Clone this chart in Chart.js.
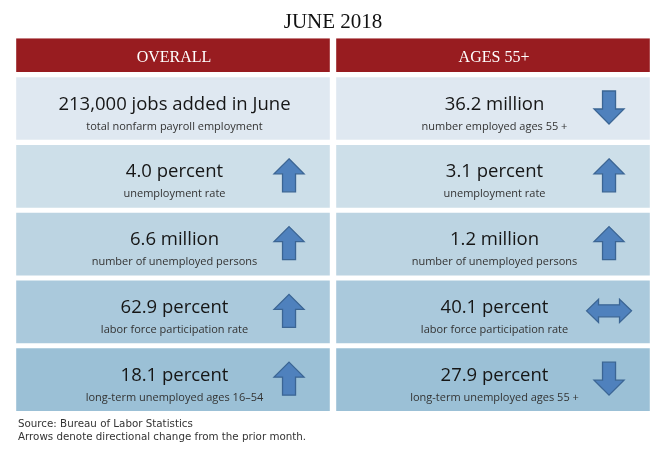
<!DOCTYPE html>
<html>
<head>
<meta charset="utf-8">
<script src="https://cdn.jsdelivr.net/npm/chart.js@4/dist/chart.umd.min.js"></script>
<style>
  html, body { margin: 0; padding: 0; background: #fff; }
  canvas { display: block; }
</style>
</head>
<body>
<canvas id="jobsChart" width="669" height="465"></canvas>
<script>
// columns of the table
const columns = ['OVERALL', 'AGES 55+'];

// headline values and their descriptions, one entry per row
const overallValues = ['213,000 jobs added in June', '4.0 percent', '6.6 million', '62.9 percent', '18.1 percent'];
const overallLabels = ['total nonfarm payroll employment', 'unemployment rate', 'number of unemployed persons',
    'labor force participation rate', 'long-term unemployed ages 16–54'];
const overallTrend = [null, 'up', 'up', 'up', 'up'];

const olderValues = ['36.2 million', '3.1 percent', '1.2 million', '40.1 percent', '27.9 percent'];
const olderLabels = ['number employed ages 55 +', 'unemployment rate', 'number of unemployed persons',
    'labor force participation rate', 'long-term unemployed ages 55 +'];
const olderTrend = ['down', 'up', 'up', 'flat', 'down'];

const footnotes = ['Source: Bureau of Labor Statistics', 'Arrows denote directional change from the prior month.'];

const rowColors = ['#dfe8f1', '#cddfe9', '#bcd4e2', '#aac9dc', '#9bc0d6'];
const headerColor = '#981c20';
const arrowFill = '#4f81bd';
const arrowLine = '#3b6594';

// each row takes one unit on the y scale, the cell covers most of it
const cellSize = 0.925;

const datasets = [{
    label: 'header',
    data: columns.map(() => [-0.575, -0.075]),
    backgroundColor: headerColor
}];
rowColors.forEach(function(color, i) {
    datasets.push({
        label: 'row ' + (i + 1),
        data: columns.map(() => [i, i + cellSize]),
        backgroundColor: color
    });
});

function drawArrow(ctx, dir, cx, cy) {
    ctx.save();
    ctx.beginPath();
    if (dir === 'flat') {
        const pts = [[-22.5, 0], [-10.5, -11.5], [-10.5, -6], [10.5, -6], [10.5, -11.5], [22.5, 0],
            [10.5, 11.5], [10.5, 6], [-10.5, 6], [-10.5, 11.5]];
        pts.forEach((p, k) => k ? ctx.lineTo(cx + p[0], cy + p[1]) : ctx.moveTo(cx + p[0], cy + p[1]));
    } else {
        const s = dir === 'up' ? 1 : -1;
        const pts = [[0, -16.5], [15, -1.5], [6.5, -1.5], [6.5, 16.5], [-6.5, 16.5], [-6.5, -1.5], [-15, -1.5]];
        pts.forEach((p, k) => k ? ctx.lineTo(cx + p[0], cy + s * p[1]) : ctx.moveTo(cx + p[0], cy + s * p[1]));
    }
    ctx.closePath();
    ctx.fillStyle = arrowFill;
    ctx.fill();
    ctx.lineWidth = 1.3;
    ctx.strokeStyle = arrowLine;
    ctx.stroke();
    ctx.restore();
}

const cellText = {
    id: 'cellText',
    afterDatasetsDraw(chart) {
        const ctx = chart.ctx;
        ctx.save();
        ctx.textAlign = 'center';
        ctx.textBaseline = 'alphabetic';

        // header labels
        chart.getDatasetMeta(0).data.forEach(function(bar, c) {
            const p = bar.getProps(['x', 'y', 'base'], true);
            const top = Math.min(p.y, p.base);
            ctx.fillStyle = '#ffffff';
            ctx.font = '16px "Liberation Serif"';
            ctx.fillText(chart.data.labels[c], p.x + 1, top + 23.5);
        });

        const values = [overallValues, olderValues];
        const labels = [overallLabels, olderLabels];
        const trends = [overallTrend, olderTrend];
        for (let r = 0; r < rowColors.length; r++) {
            chart.getDatasetMeta(r + 1).data.forEach(function(bar, c) {
                const p = bar.getProps(['x', 'y', 'base', 'width'], true);
                const top = Math.min(p.y, p.base);
                const mid = (p.y + p.base) / 2;
                ctx.fillStyle = '#161616';
                ctx.font = '18.5px "Open Sans"';
                ctx.fillText(values[c][r], p.x + 1.5, top + 32.5);
                ctx.fillStyle = '#333333';
                ctx.font = '11px "Open Sans"';
                ctx.fillText(labels[c][r], p.x + 1.5, top + 52.5);
                if (trends[c][r]) {
                    drawArrow(ctx, trends[c][r], p.x + p.width * 0.37, mid - 1);
                }
            });
        }

        // footnotes under the table
        ctx.textAlign = 'left';
        ctx.fillStyle = '#333333';
        ctx.font = '10.3px "DejaVu Sans"';
        footnotes.forEach(function(line, i) {
            ctx.fillText(line, 18, chart.chartArea.bottom + 15.5 + i * 13.5);
        });
        ctx.restore();
    }
};

new Chart(document.getElementById('jobsChart').getContext('2d'), {
    type: 'bar',
    data: {
        labels: columns,
        datasets: datasets
    },
    options: {
        responsive: false,
        animation: false,
        events: [],
        datasets: {
            bar: {
                grouped: false,
                categoryPercentage: 1,
                barPercentage: 0.98,
                borderWidth: 0
            }
        },
        layout: {
            padding: { left: 13, right: 16, top: 0, bottom: 54 }
        },
        scales: {
            x: { display: false },
            y: { display: false, reverse: true, min: -0.575, max: 4.925 }
        },
        plugins: {
            legend: { display: false },
            tooltip: { enabled: false },
            title: {
                display: true,
                text: 'JUNE 2018',
                color: '#111111',
                font: { family: '"Liberation Serif"', size: 21, weight: 'normal' },
                padding: { top: 10, bottom: 3 }
            }
        }
    },
    plugins: [cellText]
});
</script>
</body>
</html>
